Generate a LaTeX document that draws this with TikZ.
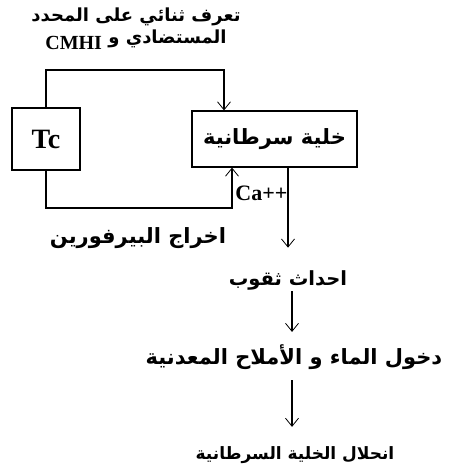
\documentclass[tikz,border=0pt]{standalone}
\usepackage{fontspec}
\setmainfont{Liberation Serif}
\newfontfamily\arabicfont[Script=Arabic]{DejaVu Sans}
\TeXXeTstate=1
\usetikzlibrary{arrows.meta}

\begin{document}
\begin{tikzpicture}[
  x=1pt, y=-1pt,
  line width=1.2pt,
  box/.style={draw,rectangle,inner sep=0pt},
  ar/.style={inner sep=0pt,font=\arabicfont\bfseries\fontsize{21}{24}\selectfont},
  lat/.style={inner sep=0pt,font=\bfseries\fontsize{22}{24}\selectfont},
  >={Straight Barb[length=8pt,width=13pt,line width=0.8pt]},
  ]
  \useasboundingbox (0,0) rectangle (450,470);
  \node[box,lat,font=\bfseries\fontsize{28}{30}\selectfont,
    minimum width=68pt,minimum height=62pt] (tc) at (46,139) {Tc};
  \node[box,ar,minimum width=165pt,minimum height=56pt] (cell) at (274.5,139)
    {\beginR خلية سرطانية\endR};
  \node[ar,align=center,font=\arabicfont\bfseries\fontsize{18}{22}\selectfont] (recog) at (136,29)
    {\beginR تعرف ثنائي على المحدد\endR\\
     \beginR المستضادي و \beginL\raisebox{-0.6ex}{\rmfamily\fontsize{20}{24}\selectfont CMHI}\endL\endR};
  \node[lat,anchor=east] (ca) at (288,193) {Ca++};
  \node[ar] (perf) at (138,238) {\beginR اخراج البيرفورين\endR};
  \node[ar,font=\arabicfont\bfseries\fontsize{19.5}{24}\selectfont] (holes) at (288,280)
    {\beginR احداث ثقوب\endR};
  \node[ar] (water) at (294,357) {\beginR دخول الماء و الأملاح المعدنية\endR};
  \node[ar,font=\arabicfont\bfseries\fontsize{17}{24}\selectfont] (lysis) at (295,455)
    {\beginR انحلال الخلية السرطانية\endR};
  \coordinate (tl) at (224,70);
  \coordinate (bl) at (232,208);
  \draw[->] (tc.north) |- (tl) -- (tl |- cell.north);
  \draw[->] (tc.south) |- (bl) -- (bl |- cell.south);
  \draw[->,shorten >=22pt] (cell.south -| holes) -- (holes.north);
  \draw[->,shorten <=1pt,shorten >=12pt] ([xshift=4pt]holes.south) -- ([xshift=4pt]holes.south |- water.north);
  \draw[->,shorten <=10pt,shorten >=19pt] ([xshift=-3pt]water.south -| lysis) -- ([xshift=-3pt]lysis.north);
\end{tikzpicture}
\end{document}
